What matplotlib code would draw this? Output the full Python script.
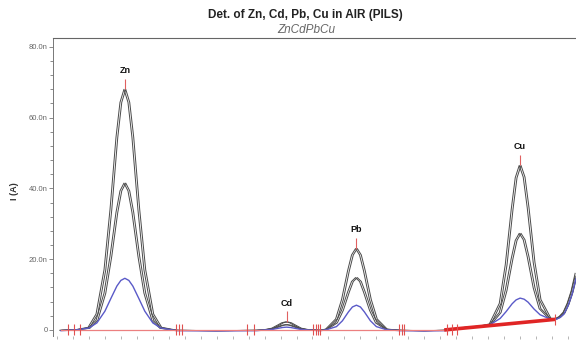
import matplotlib
matplotlib.use("Agg")
import matplotlib.pyplot as plt
from matplotlib.ticker import MultipleLocator
from matplotlib.transforms import offset_copy

plt.rcParams['font.family'] = ['Liberation Sans', 'DejaVu Sans']

# potential grid (V) and currents (nA)
E = [-1.29, -1.25, -1.22, -1.20, -1.18, -1.165, -1.15, -1.14, -1.13, -1.12, -1.11, -1.095, -1.08, -1.06, -1.04, -1.00,
     -0.90,
     -0.80, -0.78, -0.76, -0.745, -0.735, -0.725, -0.715, -0.705, -0.69, -0.67,
     -0.64,
     -0.625, -0.60, -0.585, -0.57, -0.56, -0.55, -0.54, -0.53, -0.515, -0.50, -0.475,
     -0.44, -0.38, -0.33, -0.28, -0.24,
     -0.215, -0.19, -0.175, -0.16, -0.15, -0.14, -0.13, -0.12, -0.105, -0.09, -0.065,
     -0.05, -0.04, -0.03, -0.02, -0.01, 0.0]

I_high = [-0.1, 0.1, 0.75, 4.5, 17.0, 34.0, 54.4, 64.3, 68.0, 64.3, 54.4, 34.0, 17.0, 4.5, 0.75, -0.1,
          -0.2,
          -0.1, 0.05, 0.5, 1.4, 2.03, 2.3, 2.03, 1.4, 0.5, 0.05,
          -0.1,
          0.25, 3.1, 8.6, 16.7, 21.2, 23.0, 21.2, 16.7, 8.6, 3.1, 0.25,
          -0.1, -0.2, -0.1, 0.7, 1.1,
          1.7, 7.5, 18.4, 34.1, 43.0, 46.5, 43.2, 34.6, 19.1, 8.6, 3.3,
          3.2, 3.8, 5.0, 7.5, 11.0, 16.0]

I_mid = [-0.1, 0.1, 0.46, 2.7, 10.4, 20.8, 33.2, 39.3, 41.5, 39.3, 33.2, 20.8, 10.4, 2.7, 0.46, -0.1,
         -0.2,
         -0.1, 0.03, 0.32, 0.91, 1.32, 1.5, 1.32, 0.91, 0.32, 0.03,
         -0.1,
         0.16, 2.0, 5.55, 10.7, 13.7, 14.8, 13.7, 10.7, 5.55, 2.0, 0.16,
         -0.1, -0.2, -0.1, 0.7, 1.1,
         1.5, 4.9, 11.2, 20.2, 25.3, 27.3, 25.5, 20.7, 11.9, 6.0, 3.1,
         3.1, 3.7, 4.8, 7.2, 10.6, 15.2]

I_low = [-0.2, 0.05, 0.55, 2.0, 5.3, 8.9, 12.4, 14.0, 14.6, 14.0, 12.4, 8.9, 5.3, 2.0, 0.55, -0.2,
         -0.3,
         -0.2, 0.0, 0.17, 0.49, 0.7, 0.8, 0.7, 0.49, 0.17, 0.0,
         -0.2,
         0.08, 0.95, 2.6, 5.1, 6.5, 7.0, 6.5, 5.1, 2.6, 0.95, 0.08,
         -0.2, -0.3, -0.2, 0.6, 1.0,
         1.5, 3.25, 5.2, 7.4, 8.5, 9.0, 8.7, 7.85, 5.9, 4.3, 3.1,
         3.0, 3.5, 4.5, 6.8, 10.0, 14.5]

# baseline (red)
base_E = [-1.29, -0.33]
base_I = [0.0, 0.0]
slope_E = [-0.33, -0.052]
slope_I = [0.0, 3.0]

# peak labels
peak_names = ['Zn', 'Cd', 'Pb', 'Cu']
peak_E = [-1.13, -0.725, -0.55, -0.14]
peak_I = [68.0, 2.3, 23.0, 46.5]

# red integration markers on the baseline
marker_E = [-1.272, -1.257, -1.242, -1.002, -0.994, -0.987, -0.824, -0.806,
            -0.658, -0.652, -0.646, -0.641, -0.443, -0.437, -0.430,
            -0.322, -0.310, -0.297, -0.052]
marker_I = [0, 0, 0, 0, 0, 0, 0, 0, 0, 0, 0, 0, 0, 0, 0, 0, 0, 0, 3.0]

ytick_vals = [0, 20, 40, 60, 80]
ytick_labels = ['0', '20.0n', '40.0n', '60.0n', '80.0n']

fig = plt.figure(figsize=(5.76, 3.41), dpi=100)
ax = fig.add_axes([0.092, 0.0147, 0.908, 0.874])

# black scans drawn twice, slightly shifted (replicate scans)
for dx in (-0.9, 0.9):
    tr = offset_copy(ax.transData, fig=fig, x=dx, y=0, units='dots')
    ax.plot(E, I_high, color='#4a4a4a', lw=0.7, transform=tr)
    ax.plot(E, I_mid, color='#4a4a4a', lw=0.7, transform=tr)
ax.plot(E, I_low, color='#5a5ac8', lw=1.0)

ax.plot(base_E, base_I, color='#ec8080', lw=0.9)
ax.plot(slope_E, slope_I, color='#e02525', lw=2.6, solid_capstyle='butt')

for e, i in zip(marker_E, marker_I):
    ax.vlines(e, i - 1.5, i + 1.6, color='#e05050', lw=0.8)

for name, e, i in zip(peak_names, peak_E, peak_I):
    ax.vlines(e, i, i + 3.0, color='#e06060', lw=0.8)
    ax.text(e, i + 5.3, name, ha='center', va='center', fontsize=6.5,
            fontweight='bold', color='#111111')

ax.set_xlim(-1.31, 0.0)
ax.set_ylim(-1.7, 82.5)

ax.set_xticks([-1.30 + 0.04 * k for k in range(33)])
ax.set_xticklabels([])
ax.set_yticks(ytick_vals)
ax.set_yticklabels(ytick_labels)
ax.yaxis.set_minor_locator(MultipleLocator(4))
ax.tick_params(axis='y', which='major', length=3, width=0.6, color='#777777',
               labelsize=5.5, labelcolor='#666666', pad=1)
ax.tick_params(axis='y', which='minor', length=2.5, width=0.6, color='#777777')
ax.tick_params(axis='x', which='major', length=2.5, width=0.5, color='#999999')

for side in ('right', 'bottom'):
    ax.spines[side].set_visible(False)
ax.spines['left'].set_color('#777777')
ax.spines['left'].set_linewidth(0.7)
ax.spines['top'].set_color('#666666')
ax.spines['top'].set_linewidth(0.8)

fig.text(0.026, 0.44, 'I (A)', rotation=90, ha='center', va='center',
         fontsize=6.5, fontweight='bold', color='#333333')
fig.text(0.531, 0.956, 'Det. of Zn, Cd, Pb, Cu in AIR (PILS)', ha='center', va='center',
         fontsize=8.5, fontweight='bold', color='#222222')
fig.text(0.531, 0.912, 'ZnCdPbCu', ha='center', va='center', fontsize=8.5,
         style='italic', color='#666666')

fig.savefig('out.png', dpi=100)
